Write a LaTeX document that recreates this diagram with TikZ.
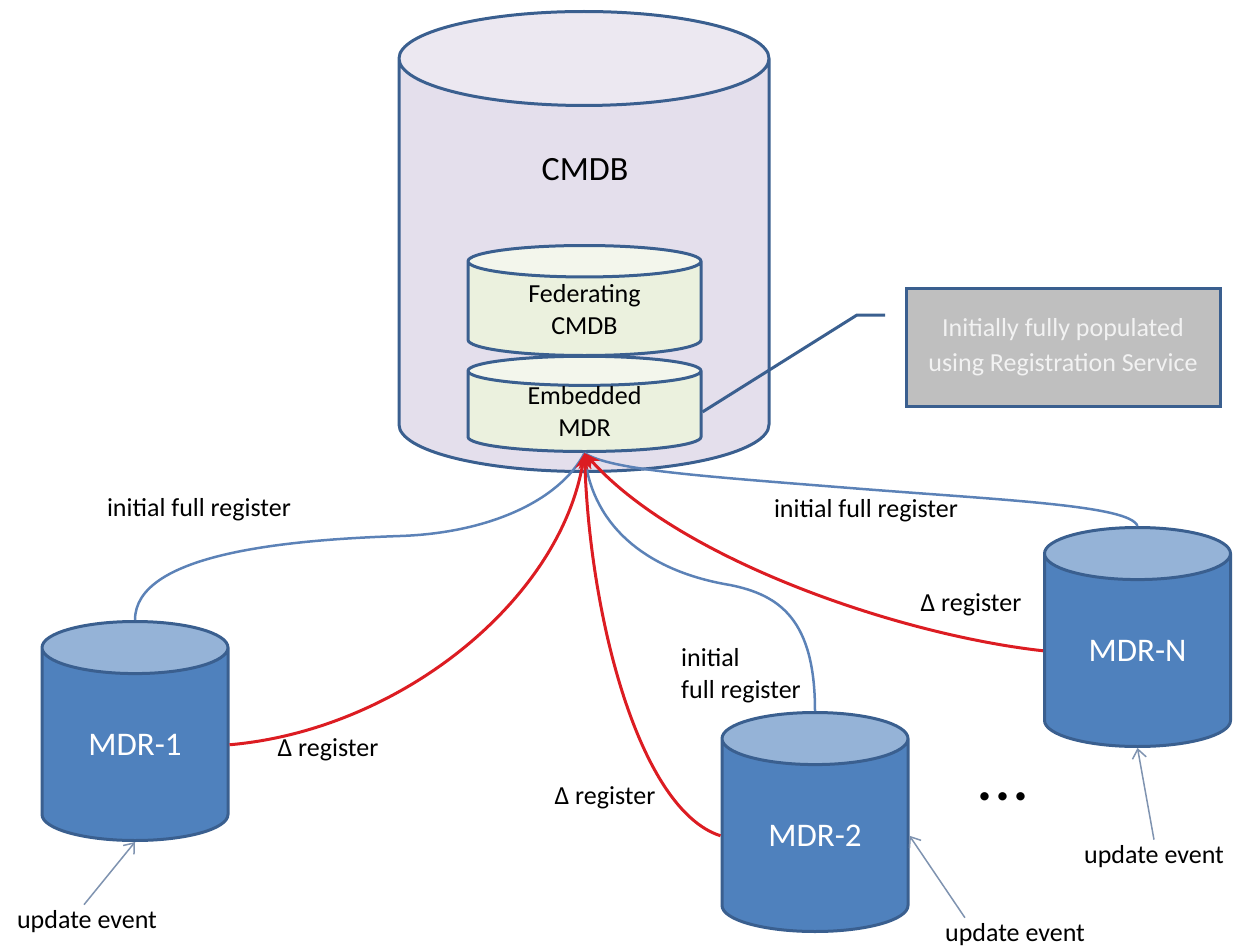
\documentclass[tikz,border=0pt]{standalone}
\usepackage{fontspec}
\setmainfont{Carlito}
\usetikzlibrary{shapes.geometric,arrows.meta}

\definecolor{dbline}{HTML}{3A5F8F}
\definecolor{cmdbbody}{HTML}{E4DFEC}
\definecolor{cmdbtop}{HTML}{ECE8F1}
\definecolor{fedbody}{HTML}{EBF1DE}
\definecolor{fedtop}{HTML}{F3F6EC}
\definecolor{mdrbody}{HTML}{4F81BD}
\definecolor{mdrtop}{HTML}{95B3D7}
\definecolor{fulllink}{HTML}{5C82B7}
\definecolor{deltalink}{HTML}{DC1C22}
\definecolor{notefill}{HTML}{BFBFBF}
\definecolor{notetext}{HTML}{F2F2F2}
\definecolor{eventline}{HTML}{7F93B0}

\tikzset{
  db/.style={cylinder, shape border rotate=90, draw=dbline, line width=3pt,
    cylinder uses custom fill, inner sep=0pt, align=center, anchor=south},
  bigdb/.style={db, cylinder body fill=cmdbbody, cylinder end fill=cmdbtop},
  innerdb/.style={db, cylinder body fill=fedbody, cylinder end fill=fedtop,
    text width=233pt, minimum width=233pt, font=\fontsize{26}{32}\selectfont},
  mdrdb/.style={db, cylinder body fill=mdrbody, cylinder end fill=mdrtop,
    text width=186pt, minimum width=186pt, minimum height=219pt, aspect=0.28,
    text=white, font=\fontsize{33}{40}\selectfont},
  lbl/.style={font=\fontsize{26}{32}\selectfont, inner sep=0pt},
  fulllinkline/.style={draw=fulllink, line width=2.5pt},
  deltalinkline/.style={draw=deltalink, line width=3pt, -{Stealth[length=16pt,width=13pt]}},
  eventarrow/.style={draw=eventline, line width=1.5pt, -{Straight Barb[length=9pt,width=14pt]}}
}

\begin{document}
\begin{tikzpicture}[x=1pt,y=-1pt]
\useasboundingbox (0,0) rectangle (1243,950);

% CMDB with its two inner stores
\node[bigdb, text width=370pt, minimum width=370pt, minimum height=460pt, aspect=0.254] (cmdb) at (584,473) {};
\node[lbl, font=\fontsize{34}{40}\selectfont] (cmdblabel) at (585,170) {CMDB};
\node[innerdb, minimum height=110pt, aspect=0.135] (fed) at (584.5,357) {Federating\\CMDB};
\node[innerdb, minimum height=95pt, aspect=0.125] (emb) at (584.5,453) {Embedded\\MDR};

% Callout
\node[draw=dbline, line width=3pt, fill=notefill, text=notetext, align=center,
  minimum width=314pt, minimum height=118pt, font=\fontsize{26}{35}\selectfont] (note) at (1063,347)
  {Initially fully populated\\using Registration Service};
\coordinate (noteend) at (885,315);
\draw[draw=dbline, line width=3pt] (emb.east) -- (857,315) -- (noteend);

% MDR stores
\node[mdrdb] (mdr1) at (135,842) {MDR-1};
\node[mdrdb] (mdr2) at (815,933) {MDR-2};
\node[mdrdb] (mdrn) at (1137.5,748) {MDR-N};

% Initial full register links
\draw[fulllinkline] (mdr1.north) .. controls (135,555) and (280,540) .. (400,536)
  .. controls (490,533) and (560,500) .. (emb.south);
\draw[fulllinkline] (mdr2.north) .. controls (815,620) and (780,595) .. (730,585)
  .. controls (640,570) and (590,520) .. (emb.south);
\draw[fulllinkline] (mdrn.north) .. controls (1130,505) and (1000,500) .. (850,488)
  .. controls (700,476) and (610,470) .. (emb.south);

% Delta register links
\draw[deltalinkline] (mdr1.east) .. controls (400,730) and (560,600) .. (emb.south);
\draw[deltalinkline] (mdr2.west) .. controls (640,810) and (590,620) .. (emb.south);
\draw[deltalinkline] (mdrn.west) .. controls (900,635) and (680,560) .. (emb.south);

% Link labels
\node[lbl] (full1) at (199,510) {initial full register};
\node[lbl] (delta1) at (328,750) {Δ register};
\node[lbl, align=left] (full2) at (741,676) {initial\\full register};
\node[lbl] (delta2) at (605,798) {Δ register};
\node[lbl] (fulln) at (866,511) {initial full register};
\node[lbl] (deltan) at (971,605) {Δ register};

% Update events
\node[lbl] (event1) at (87,922) {update event};
\node[lbl] (event2) at (1015,935) {update event};
\node[lbl] (eventn) at (1154,857) {update event};
\draw[eventarrow] ([xshift=-3pt,yshift=6pt]event1.north) -- (mdr1.south);
\draw[eventarrow] ([xshift=20pt,yshift=6pt]event2.north west) -- (mdr2.east);
\draw[eventarrow] ([yshift=6pt]eventn.north) -- (mdrn.south);

% More stores
\node[font=\fontsize{56}{56}\selectfont\bfseries] (dots) at (1003,797) {.\hspace{3pt}.\hspace{3pt}.};
\end{tikzpicture}
\end{document}
